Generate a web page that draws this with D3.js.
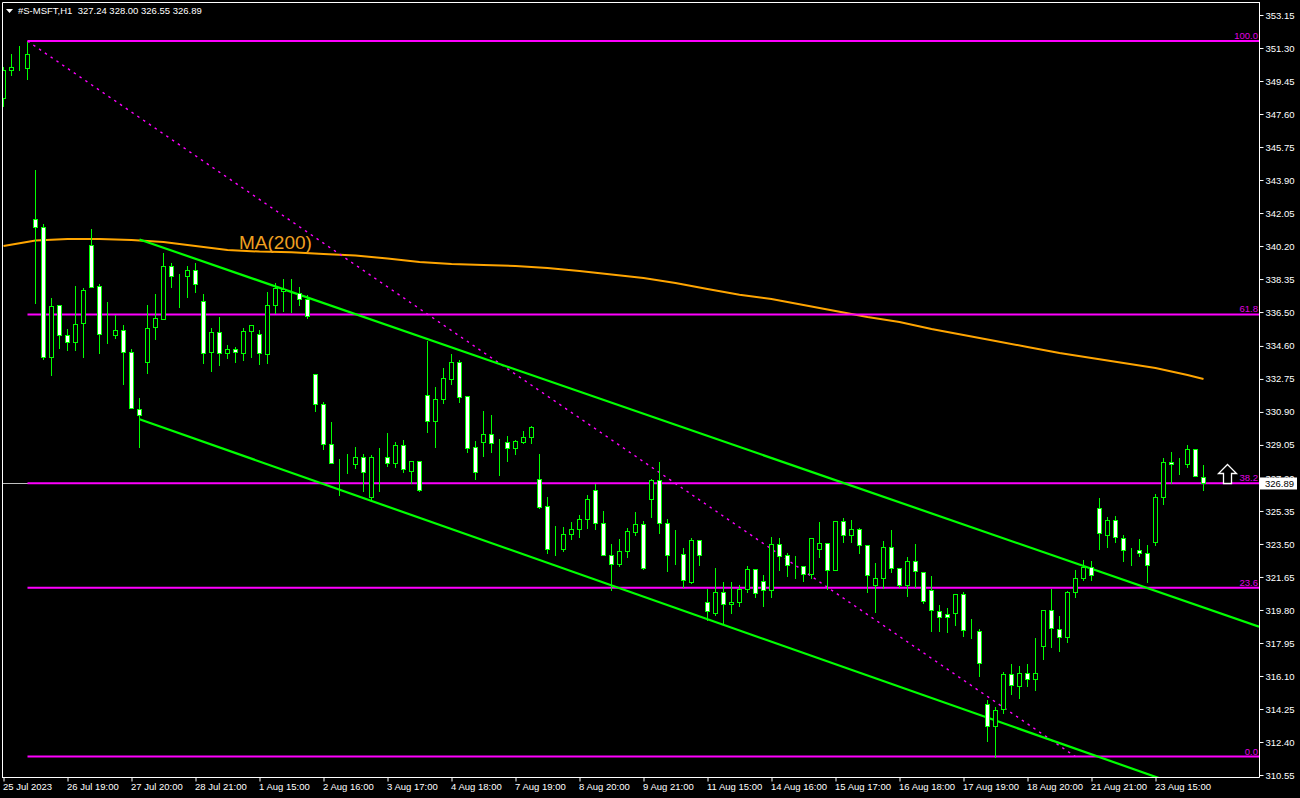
<!DOCTYPE html>
<meta charset="utf-8">
<style>
body { margin: 0; background: #000; }
svg { display: block; }
text { font-family: "Liberation Sans", Arial, sans-serif; }
.axis path, .axis line { stroke: #fff; }
.axis text { fill: #fff; font-size: 9.5px; }
</style>
<script src="https://d3js.org/d3.v7.min.js"></script>
<body>
<script>

var symbol = "#S-MSFT,H1";
var lastQuote = ["327.24", "328.00", "326.55", "326.89"];

// hourly bars, oldest first
var opens = [348.48,350.05,350.20,350.20,341.70,341.25,334.00,336.88,335.20,334.80,
  335.90,340.24,337.94,335.25,335.20,335.48,334.24,331.05,333.68,335.64,
  336.13,339.06,338.60,338.54,338.84,337.10,334.28,335.36,334.22,334.41,
  334.22,335.42,335.25,334.13,336.88,337.69,337.55,337.55,337.23,333.01,
  331.33,329.09,328.00,328.00,327.96,328.36,326.15,328.33,328.36,328.02,
  329.03,327.61,328.13,331.83,330.38,331.61,332.77,333.68,331.78,328.92,
  329.23,329.65,329.18,329.20,328.86,329.23,329.48,327.12,325.61,323.23,
  323.20,324.04,324.32,324.88,326.51,324.66,322.86,322.36,323.09,324.15,
  324.60,326.00,327.07,324.66,322.83,322.92,321.38,323.72,320.23,319.65,
  320.79,320.12,320.23,320.96,322.08,321.41,320.90,323.48,322.86,322.28,
  322.25,321.83,323.20,323.54,322.06,324.77,323.99,324.32,323.43,321.22,
  321.61,323.32,322.13,321.22,322.55,321.91,320.92,319.72,319.56,319.61,
  320.68,318.64,318.60,314.51,313.28,314.23,316.19,315.52,316.25,315.91,
  317.76,319.78,318.72,318.27,320.79,321.57,322.19,325.54,324.02,324.82,
  323.82,323.17,323.17,322.97,323.59,326.15,328.10,327.96,327.96,328.81,
  327.24];
var highs = [350.29,351.00,351.47,351.69,344.52,341.51,337.36,336.88,335.62,338.02,
  337.90,341.21,338.11,337.12,336.39,335.83,334.47,331.72,336.95,337.55,
  339.85,339.29,338.67,339.14,339.29,337.55,335.64,336.26,334.69,334.58,
  335.64,335.76,335.53,337.66,338.20,338.39,338.39,337.96,337.49,333.01,
  331.51,330.39,328.30,328.58,329.01,328.58,328.53,328.95,329.78,329.25,
  329.38,328.20,328.13,334.93,332.35,333.42,334.20,333.87,331.78,329.33,
  331.01,330.78,329.44,329.59,329.38,329.89,330.17,328.58,326.19,324.56,
  324.51,324.79,325.18,326.30,326.90,325.40,323.54,323.83,324.43,325.35,
  324.84,327.18,328.15,324.94,324.32,323.35,323.87,323.80,321.05,322.21,
  321.44,321.42,321.26,322.32,322.15,321.82,323.95,323.89,323.07,322.86,
  322.32,323.82,324.77,323.60,324.84,324.99,324.88,324.43,323.43,322.47,
  323.71,324.32,322.13,322.83,323.55,321.91,321.76,320.13,319.94,320.68,
  320.86,319.35,318.77,314.79,314.40,316.38,316.83,316.71,316.83,318.28,
  319.78,321.02,319.54,320.92,322.10,322.64,322.60,326.16,325.05,325.10,
  324.04,323.31,323.82,323.48,326.34,328.36,328.69,328.36,329.09,328.81,
  328.00];
var lows = [348.05,349.80,350.07,349.56,337.02,333.87,332.97,334.50,334.37,334.37,
  334.00,337.89,334.19,334.75,335.03,332.45,331.10,328.95,333.10,334.99,
  336.13,337.90,336.80,337.33,337.64,333.66,333.21,333.55,333.92,333.72,
  333.81,334.00,333.60,333.66,336.43,336.57,336.48,336.88,336.18,330.97,
  328.84,328.02,326.24,327.46,327.74,326.48,326.00,326.48,327.87,327.83,
  327.55,326.90,326.47,329.79,328.95,331.42,332.48,331.47,328.67,327.16,
  328.43,328.67,327.38,328.17,328.54,329.14,329.18,325.50,322.98,322.90,
  323.12,323.80,323.91,324.41,324.36,322.86,320.92,322.28,322.75,323.99,
  322.08,325.03,324.13,322.00,322.36,321.07,321.33,322.30,319.24,319.53,
  319.05,319.65,320.03,320.82,320.54,320.00,320.54,322.06,321.72,321.59,
  321.41,321.62,322.75,320.99,322.06,323.63,323.63,323.01,320.79,319.70,
  321.02,321.95,321.10,320.60,321.07,320.17,318.64,318.64,318.58,318.97,
  318.36,318.25,316.10,312.47,311.58,314.04,315.11,314.88,315.52,315.30,
  317.03,317.70,317.52,317.99,320.54,321.46,321.46,323.23,323.31,323.59,
  322.53,322.30,322.81,321.38,323.43,325.72,326.93,327.44,327.83,327.29,
  326.55];
var closes = [350.07,350.22,350.20,350.96,341.25,334.00,336.84,335.20,334.80,335.81,
  337.72,337.89,335.25,335.27,335.48,334.24,331.10,330.71,335.59,336.15,
  339.08,338.54,338.60,338.84,338.09,334.22,335.36,334.19,334.41,334.24,
  335.42,335.76,334.19,336.88,337.83,337.77,337.55,337.25,336.30,331.33,
  329.09,328.02,328.00,328.00,328.36,327.52,328.36,328.33,328.02,329.03,
  327.68,328.13,326.54,330.38,331.61,332.79,333.68,331.75,328.90,327.55,
  329.65,329.14,329.18,328.90,329.25,329.48,330.04,325.59,323.20,323.23,
  324.04,324.32,324.88,326.00,324.66,322.86,322.36,323.09,324.21,324.60,
  322.13,327.07,324.66,322.86,322.83,321.46,323.72,322.86,319.72,320.79,
  320.12,320.23,320.96,322.08,320.73,320.90,323.48,322.81,322.30,322.28,
  321.83,323.82,323.54,322.06,324.77,323.99,324.32,323.43,321.75,321.57,
  323.32,322.13,321.22,322.55,321.97,320.28,319.78,319.39,319.39,320.68,
  318.66,318.64,316.81,313.28,314.18,316.19,315.58,316.25,315.91,316.25,
  319.78,318.77,318.27,320.79,321.57,322.19,321.74,324.10,324.82,323.87,
  323.14,323.17,322.97,322.30,326.15,328.08,327.99,327.96,328.81,327.29,
  326.89];

// MA(200)
var maBars = [0,4,8,12,16,20,24,28,32,36,40,44,48,52,56,60,64,68,72,76,
  80,84,88,92,96,100,104,108,112,116,120,124,128,132,136,140,144,148,150];
var maValues = [340.20,340.51,340.59,340.59,340.54,340.43,340.20,339.98,339.89,339.85,
  339.75,339.67,339.50,339.31,339.19,339.14,339.08,338.97,338.80,338.60,
  338.41,338.13,337.79,337.47,337.23,336.89,336.56,336.22,335.94,335.55,
  335.21,334.88,334.54,334.20,333.92,333.64,333.36,332.97,332.75];

// drawn objects: [bar, price] anchors
var channelUpper = [[17, 340.57], [150, 319.94]];
var channelLower = [[17, 330.49], [150, 309.50]];
var fibAnchors = [[3, 351.69], [134, 311.58]];
var fibLevels = [0, 23.6, 38.2, 61.8, 100];
var fibLabels = ["0.0", "23.6", "38.2", "61.8", "100.0"];
var arrowAnchor = [153, 326.89];
var bidPrice = 326.89;

var priceTicks = [353.15,351.30,349.45,347.60,345.75,343.90,342.05,340.20,338.35,336.50,
  334.60,332.75,330.90,329.05,327.20,325.35,323.50,321.65,319.80,317.95,316.10,314.25,312.40,310.55];
var timeTickBars = [0,8,16,24,32,40,48,56,64,72,80,88,96,104,112,120,128,136,144];
var timeTickLabels = ["25 Jul 2023","26 Jul 19:00","27 Jul 20:00","28 Jul 21:00","1 Aug 15:00",
  "2 Aug 16:00","3 Aug 17:00","4 Aug 18:00","7 Aug 19:00","8 Aug 20:00","9 Aug 21:00",
  "11 Aug 15:00","14 Aug 16:00","15 Aug 17:00","16 Aug 18:00","17 Aug 19:00",
  "18 Aug 20:00","21 Aug 21:00","23 Aug 15:00"];

var width = 1300, height = 798;
var plotL = 2, plotT = 2, plotR = 1259, plotB = 777;

var svg = d3.select("body").append("svg")
    .attr("width", width)
    .attr("height", height);

svg.append("rect").attr("width", width).attr("height", height).attr("fill", "#000");

var x = d3.scaleLinear().domain([0, 150]).range([3.5, 1203.5]);
var y = d3.scaleLinear().domain([310.55, 353.15]).range([775, 15]);
var py = function(v) { return Math.round(y(v)) + 0.5; };

svg.append("clipPath").attr("id", "plot")
  .append("rect")
    .attr("x", plotL).attr("y", plotT)
    .attr("width", plotR - plotL).attr("height", plotB - plotT);

var plot = svg.append("g").attr("clip-path", "url(#plot)");

// bid line
plot.append("line")
    .attr("x1", 0).attr("x2", plotR)
    .attr("y1", py(bidPrice)).attr("y2", py(bidPrice))
    .attr("stroke", "#c0c0c0").attr("stroke-width", 1);

// MA(200)
plot.append("path")
    .datum(maBars.map(function(b, i) { return [b, maValues[i]]; }))
    .attr("fill", "none")
    .attr("stroke", "#ffa500")
    .attr("stroke-width", 2)
    .attr("d", d3.line().x(function(d) { return x(d[0]); }).y(function(d) { return y(d[1]); }));

svg.append("text")
    .attr("x", 239).attr("y", 248.5)
    .attr("fill", "#f0a020")
    .style("font-size", "19px")
    .text("MA(200)");

// fibonacci levels
var fibHigh = fibAnchors[0][1], fibLow = fibAnchors[1][1];
fibLevels.forEach(function(lv, i) {
  var price = fibLow + (fibHigh - fibLow) * lv / 100;
  plot.append("line")
      .attr("x1", x(fibAnchors[0][0])).attr("x2", plotR)
      .attr("y1", y(price)).attr("y2", y(price))
      .attr("stroke", "#ff00ff").attr("stroke-width", 2);
  svg.append("text")
      .attr("x", plotR - 1).attr("y", y(price) - 2)
      .attr("text-anchor", "end")
      .attr("fill", "#e000e0")
      .style("font-size", "9.5px")
      .text(fibLabels[i]);
});

plot.append("line")
    .attr("x1", x(fibAnchors[0][0])).attr("y1", y(fibAnchors[0][1]))
    .attr("x2", x(fibAnchors[1][0])).attr("y2", y(fibAnchors[1][1]))
    .attr("stroke", "#ff00ff").attr("stroke-width", 1.4)
    .attr("stroke-dasharray", "2.5,4.5");

// price channel, extended to the right edge
[channelUpper, channelLower].forEach(function(ch) {
  var slope = (ch[1][1] - ch[0][1]) / (ch[1][0] - ch[0][0]);
  var endBar = x.invert(plotR);
  plot.append("line")
      .attr("x1", x(ch[0][0])).attr("y1", y(ch[0][1]))
      .attr("x2", x(endBar)).attr("y2", y(ch[0][1] + slope * (endBar - ch[0][0])))
      .attr("stroke", "#00ff00").attr("stroke-width", 2.2);
});

// candles
var bars = opens.map(function(o, i) {
  return { i: i, o: o, h: highs[i], l: lows[i], c: closes[i] };
});

var candle = plot.append("g")
    .attr("shape-rendering", "crispEdges")
  .selectAll("g")
  .data(bars)
  .enter().append("g");

candle.append("line")
    .attr("x1", function(d) { return Math.floor(x(d.i)) + 0.5; })
    .attr("x2", function(d) { return Math.floor(x(d.i)) + 0.5; })
    .attr("y1", function(d) { return py(d.h); })
    .attr("y2", function(d) { return py(d.l); })
    .attr("stroke", "#00ff00");

candle.append("rect")
    .attr("x", function(d) { return Math.floor(x(d.i)) - 1.5; })
    .attr("width", 4)
    .attr("y", function(d) { return py(Math.max(d.o, d.c)); })
    .attr("height", function(d) { return py(Math.min(d.o, d.c)) - py(Math.max(d.o, d.c)); })
    .attr("fill", function(d) { return d.c >= d.o ? "#000" : "#fff"; })
    .attr("stroke", "#00ff00")
    .attr("stroke-width", 1);

// arrow object
var ax = x(arrowAnchor[0]), ay = y(arrowAnchor[1]);
plot.append("path")
    .attr("d", "M" + ax + "," + (ay - 19) +
      "L" + (ax + 9) + "," + (ay - 10) + "L" + (ax + 4) + "," + (ay - 10) +
      "L" + (ax + 4) + "," + ay + "L" + (ax - 4) + "," + ay +
      "L" + (ax - 4) + "," + (ay - 10) + "L" + (ax - 9) + "," + (ay - 10) + "Z")
    .attr("fill", "#000")
    .attr("stroke", "#fff")
    .attr("stroke-width", 1.3);

// frame
svg.append("path")
    .attr("d", "M" + (plotL + 0.5) + "," + (plotB + 0.5) + "V" + (plotT + 0.5) + "H" + (plotR + 0.5))
    .attr("fill", "none")
    .attr("stroke", "#fff");

// axes
var yAxis = d3.axisRight(y)
    .tickValues(priceTicks)
    .tickFormat(d3.format(".2f"))
    .tickSize(4)
    .tickPadding(2);

svg.append("g")
    .attr("class", "axis")
    .attr("transform", "translate(" + (plotR + 0.5) + ",0)")
    .call(yAxis)
    .call(function(g) { g.select(".domain").attr("d", "M0," + plotT + "V" + (plotB + 0.5)); });

var xAxis = d3.axisBottom(x)
    .tickValues(timeTickBars)
    .tickFormat(function(d, i) { return timeTickLabels[i]; })
    .tickSize(4)
    .tickPadding(2);

svg.append("g")
    .attr("class", "axis")
    .attr("transform", "translate(0," + (plotB + 0.5) + ")")
    .call(xAxis)
    .call(function(g) {
      g.select(".domain").attr("d", "M" + plotL + ",0H" + (plotR + 0.5));
      g.selectAll(".tick text").attr("text-anchor", "start").attr("x", -1);
    });

// current price label
svg.append("rect")
    .attr("x", plotR + 1).attr("y", y(bidPrice) - 6)
    .attr("width", 37).attr("height", 12)
    .attr("fill", "#fff");
svg.append("text")
    .attr("x", plotR + 6).attr("y", y(bidPrice) + 3.5)
    .attr("fill", "#000")
    .style("font-size", "9.5px")
    .text(d3.format(".2f")(bidPrice));

// header
svg.append("path")
    .attr("d", "M6,9H13L9.5,13Z")
    .attr("fill", "#fff");
svg.append("text")
    .attr("x", 18).attr("y", 14)
    .attr("fill", "#fff")
    .style("font-size", "9.5px")
    .attr("xml:space", "preserve")
    .text(symbol + "  " + lastQuote.join(" "));

</script>
</body>
